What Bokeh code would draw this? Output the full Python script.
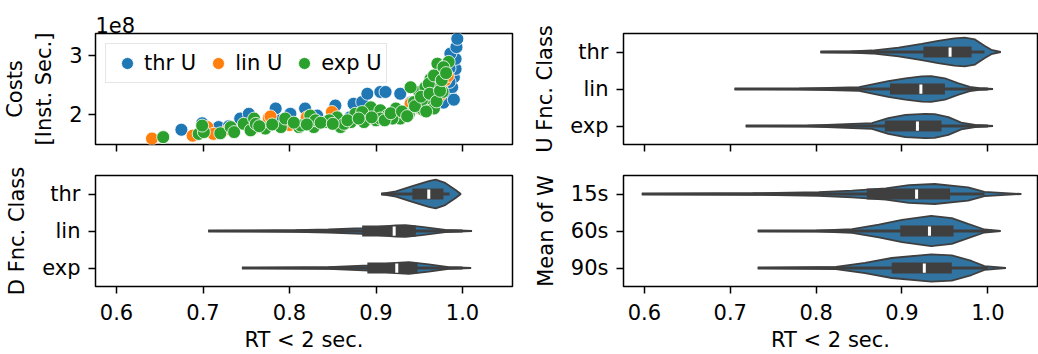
from bokeh.plotting import figure
from bokeh.layouts import gridplot
from bokeh.models import FixedTicker, Range1d, PrintfTickFormatter
from bokeh.embed import file_html
from bokeh.resources import INLINE

FONT = "DejaVu Sans"
FS = "21px"
BLUE, ORANGE, GREEN = "#1f77b4", "#ff7f0e", "#2ca02c"
VIOLIN = "#3274a1"
GRAY = "#3f3f3f"

# ---------------- data ----------------
x_ticks = [0.6, 0.7, 0.8, 0.9, 1.0]
cost_ticks = [2, 3]           # in units of 1e8

# scatter: RT < 2 sec. vs costs (1e8 inst. sec.)
thr_x = [0.675, 0.699, 0.718, 0.743, 0.753, 0.784, 0.801, 0.818, 0.832, 0.853, 0.874, 0.884,
         0.890, 0.905, 0.911, 0.928, 0.940, 0.950, 0.960, 0.968, 0.975, 0.982, 0.986, 0.988,
         0.990, 0.992, 0.982, 0.992, 0.986, 0.993, 0.994, 0.980, 0.985, 0.978, 0.965, 0.955,
         0.935, 0.920, 0.900, 0.870, 0.790, 0.760, 0.730, 0.990, 0.975, 0.985]
thr_y = [1.74, 1.85, 1.785, 1.93, 2.01, 2.10, 2.01, 2.10, 1.98, 2.15, 2.18, 2.21,
         2.35, 2.38, 2.38, 2.35, 2.20, 2.25, 2.30, 2.40, 2.30, 2.46, 2.35, 2.46,
         2.63, 2.77, 2.86, 2.94, 3.03, 3.14, 3.28, 2.70, 2.55, 2.20, 2.15, 2.10,
         2.05, 2.00, 1.98, 1.95, 1.90, 1.85, 1.80, 2.25, 2.62, 2.78]

lin_x = [0.641, 0.688, 0.705, 0.712, 0.776, 0.778, 0.849, 0.974, 0.980, 0.730, 0.760, 0.800,
         0.830, 0.860, 0.890, 0.910, 0.930, 0.950, 0.965, 0.975, 0.983, 0.820, 0.880, 0.940]
lin_y = [1.59, 1.64, 1.785, 1.67, 1.94, 1.966, 2.04, 2.32, 2.58, 1.75, 1.78, 1.82,
         1.85, 1.88, 1.92, 1.97, 2.03, 2.10, 2.20, 2.45, 2.65, 1.95, 2.00, 2.18]

exp_x = [0.654, 0.695, 0.701, 0.699, 0.720, 0.732, 0.736, 0.747, 0.755, 0.759, 0.761, 0.772,
         0.790, 0.795, 0.811, 0.828, 0.824, 0.842, 0.855, 0.859, 0.871, 0.876, 0.886, 0.894,
         0.900, 0.905, 0.913, 0.923, 0.928, 0.905, 0.938, 0.944, 0.948, 0.955, 0.950, 0.957,
         0.965, 0.959, 0.963, 0.967, 0.971, 0.963, 0.973, 0.975, 0.971, 0.980, 0.984, 0.977,
         0.813, 0.830, 0.846, 0.863, 0.884, 0.919, 0.934, 0.953, 0.940, 0.961, 0.967, 0.978,
         0.765, 0.780, 0.805, 0.820, 0.836, 0.850, 0.867, 0.880, 0.895, 0.910, 0.917, 0.930,
         0.936, 0.945, 0.952, 0.958, 0.962, 0.970, 0.974, 0.976, 0.981]
exp_y = [1.615, 1.67, 1.70, 1.81, 1.68, 1.785, 1.70, 1.84, 1.73, 1.93, 1.84, 1.76,
         1.785, 1.93, 1.785, 1.785, 1.98, 1.87, 1.95, 1.785, 1.87, 2.01, 1.87, 2.12,
         1.90, 2.07, 1.98, 2.10, 1.93, 1.93, 2.01, 2.21, 2.12, 2.07, 2.38, 2.46,
         2.44, 2.18, 2.27, 2.10, 2.52, 2.60, 2.69, 2.75, 2.86, 2.83, 2.89, 2.38,
         1.81, 1.90, 1.90, 1.84, 2.04, 1.93, 2.01, 2.24, 2.46, 2.52, 2.66, 2.80,
         1.80, 1.83, 1.86, 1.83, 1.86, 1.84, 1.90, 1.93, 1.95, 1.90, 2.02, 2.05,
         1.97, 2.14, 2.30, 2.05, 2.35, 2.22, 2.40, 2.58, 2.70]

# violin panels: categories, profile (x, half width), box stats
u_cats = ["thr", "lin", "exp"]
u_prof_x = [[0.805, 0.840, 0.865, 0.896, 0.923, 0.942, 0.961, 0.973, 0.985, 0.996, 1.004, 1.015],
            [0.705, 0.780, 0.850, 0.884, 0.904, 0.923, 0.934, 0.950, 0.965, 0.979, 0.990, 1.006],
            [0.718, 0.790, 0.865, 0.884, 0.904, 0.927, 0.938, 0.954, 0.969, 0.985, 1.006]]
u_prof_w = [[0.0, 0.015, 0.04, 0.12, 0.22, 0.30, 0.37, 0.39, 0.34, 0.17, 0.06, 0.0],
            [0.0, 0.01, 0.05, 0.21, 0.29, 0.34, 0.35, 0.29, 0.16, 0.06, 0.02, 0.0],
            [0.0, 0.01, 0.08, 0.21, 0.30, 0.33, 0.32, 0.24, 0.09, 0.03, 0.0]]
u_q1 = [0.925, 0.886, 0.880]
u_med = [0.956, 0.922, 0.918]
u_q3 = [0.981, 0.950, 0.946]
u_lo = [0.805, 0.705, 0.718]
u_hi = [0.996, 1.000, 1.000]

d_cats = ["thr", "lin", "exp"]
d_prof_x = [[0.906, 0.923, 0.942, 0.961, 0.969, 0.980, 0.992, 0.998],
            [0.706, 0.807, 0.845, 0.884, 0.923, 0.934, 0.953, 0.980, 1.011],
            [0.745, 0.845, 0.892, 0.923, 0.938, 0.961, 0.984, 1.010]]
d_prof_w = [[0.0, 0.07, 0.21, 0.35, 0.39, 0.30, 0.11, 0.0],
            [0.0, 0.02, 0.04, 0.08, 0.15, 0.16, 0.11, 0.03, 0.0],
            [0.0, 0.025, 0.07, 0.14, 0.16, 0.10, 0.025, 0.0]]
d_q1 = [0.942, 0.884, 0.890]
d_med = [0.961, 0.921, 0.924]
d_q3 = [0.978, 0.946, 0.948]
d_lo = [0.906, 0.706, 0.745]
d_hi = [0.985, 1.000, 1.000]

w_cats = ["15s", "60s", "90s"]
w_prof_x = [[0.597, 0.726, 0.803, 0.842, 0.881, 0.908, 0.938, 0.977, 0.996, 1.039],
            [0.732, 0.800, 0.842, 0.873, 0.900, 0.934, 0.958, 0.977, 0.996, 1.015],
            [0.732, 0.823, 0.857, 0.888, 0.934, 0.958, 0.981, 0.996, 1.021]]
w_prof_w = [[0.0, 0.02, 0.05, 0.09, 0.15, 0.24, 0.27, 0.18, 0.06, 0.0],
            [0.0, 0.01, 0.05, 0.17, 0.30, 0.41, 0.35, 0.19, 0.04, 0.0],
            [0.0, 0.03, 0.14, 0.27, 0.37, 0.34, 0.19, 0.05, 0.0]]
w_q1 = [0.859, 0.898, 0.888]
w_med = [0.917, 0.932, 0.926]
w_q3 = [0.956, 0.960, 0.958]
w_lo = [0.597, 0.732, 0.732]
w_hi = [0.996, 1.000, 1.000]

X_LO, X_HI = 0.5757, 1.0578


def make_fig(width, height, mbl, mbr, mbt, mbb, y_range):
    p = figure(width=width, height=height, output_backend="svg", toolbar_location=None,
               x_range=Range1d(X_LO, X_HI), y_range=y_range,
               min_border_left=mbl, min_border_right=mbr,
               min_border_top=mbt, min_border_bottom=mbb)
    p.grid.visible = False
    p.outline_line_color = "black"
    p.outline_line_width = 1.5
    p.background_fill_color = "white"
    p.border_fill_color = "white"
    for ax in (p.xaxis[0], p.yaxis[0]):
        ax.axis_line_color = None
        ax.major_tick_line_color = "black"
        ax.major_tick_line_width = 1.5
        ax.major_tick_out = 7
        ax.major_tick_in = 0
        ax.minor_tick_line_color = None
        ax.major_label_text_font = FONT
        ax.major_label_text_font_size = FS
        ax.major_label_text_color = "black"
        ax.axis_label_text_font = FONT
        ax.axis_label_text_font_size = FS
        ax.axis_label_text_font_style = "normal"
        ax.axis_label_text_color = "black"
    p.xaxis.ticker = FixedTicker(ticks=x_ticks)
    p.xaxis.formatter = PrintfTickFormatter(format="%.1f")
    return p


def hide_x_labels(p):
    p.xaxis.major_label_text_color = None
    p.xaxis.major_label_text_font_size = "1px"


def show_x_labels(p):
    p.xaxis.axis_label = "RT < 2 sec."
    p.xaxis.major_label_standoff = 10
    p.xaxis.axis_label_standoff = 5


def violins(p, cats, prof_x, prof_w, q1, med, q3, lo, hi, ylabel):
    n = len(cats)
    pos = list(range(n - 1, -1, -1))
    xs, ys = [], []
    for i in range(n):
        px, pw = prof_x[i], prof_w[i]
        xs.append(px + px[::-1])
        ys.append([pos[i] + w for w in pw] + [pos[i] - w for w in pw[::-1]])
    p.patches(xs, ys, fill_color=VIOLIN, line_color=GRAY, line_width=1.8)
    p.segment(x0=lo, x1=hi, y0=pos, y1=pos, line_color=GRAY, line_width=3.2, line_cap="butt")
    p.hbar(y=pos, left=q1, right=q3, height=0.3, fill_color=GRAY, line_color=None)
    p.segment(x0=med, x1=med, y0=[v - 0.125 for v in pos], y1=[v + 0.125 for v in pos],
              line_color="white", line_width=3, line_cap="butt")
    p.yaxis.ticker = FixedTicker(ticks=pos)
    p.yaxis.major_label_overrides = {pos[i]: cats[i] for i in range(n)}
    p.yaxis.major_label_standoff = 8
    p.yaxis.axis_label = ylabel
    p.yaxis.axis_label_standoff = 10


# ---- top-left: scatter ----
p1 = make_fig(530, 160, 95, 18, 33, 16, Range1d(1.49, 3.371))
p1.scatter(thr_x, thr_y, size=13, fill_color=BLUE, line_color="white", line_width=0.8,
           legend_label="thr U")
p1.scatter(lin_x, lin_y, size=13, fill_color=ORANGE, line_color="white", line_width=0.8,
           legend_label="lin U")
p1.scatter(exp_x, exp_y, size=13, fill_color=GREEN, line_color="white", line_width=0.8,
           legend_label="exp U")
p1.yaxis.ticker = FixedTicker(ticks=cost_ticks)
p1.yaxis.axis_label = "Costs\n[Inst. Sec.]"
p1.yaxis.major_label_standoff = 6
p1.yaxis.axis_label_standoff = 10
p1.title.text = "1e8"
p1.title.align = "left"
p1.title.text_font = FONT
p1.title.text_font_size = FS
p1.title.text_font_style = "normal"
p1.title.text_color = "black"
p1.title.standoff = 2
hide_x_labels(p1)
lg = p1.legend[0]
lg.orientation = "horizontal"
lg.location = "top_left"
lg.margin = 10
lg.padding = 4
lg.spacing = 5
lg.glyph_width = 34
lg.glyph_height = 30
lg.label_standoff = 0
lg.label_text_font = FONT
lg.label_text_font_size = FS
lg.label_text_color = "black"
lg.border_line_color = "#cccccc"
lg.border_line_width = 1.5
lg.background_fill_alpha = 0.8

# ---- top-right: U Fnc. Class ----
p2 = make_fig(508, 160, 93, 1, 33, 16, Range1d(-0.5, 2.5))
violins(p2, u_cats, u_prof_x, u_prof_w, u_q1, u_med, u_q3, u_lo, u_hi, "U Fnc. Class")
hide_x_labels(p2)

# ---- bottom-left: D Fnc. Class ----
p3 = make_fig(530, 194, 95, 18, 15, 68, Range1d(-0.5, 2.5))
violins(p3, d_cats, d_prof_x, d_prof_w, d_q1, d_med, d_q3, d_lo, d_hi, "D Fnc. Class")
show_x_labels(p3)

# ---- bottom-right: Mean of W ----
p4 = make_fig(508, 194, 93, 1, 15, 68, Range1d(-0.5, 2.5))
violins(p4, w_cats, w_prof_x, w_prof_w, w_q1, w_med, w_q3, w_lo, w_hi, "Mean of W")
show_x_labels(p4)

grid = gridplot([[p1, p2], [p3, p4]], toolbar_location=None)
open("out.html", "w").write(file_html(grid, INLINE))
